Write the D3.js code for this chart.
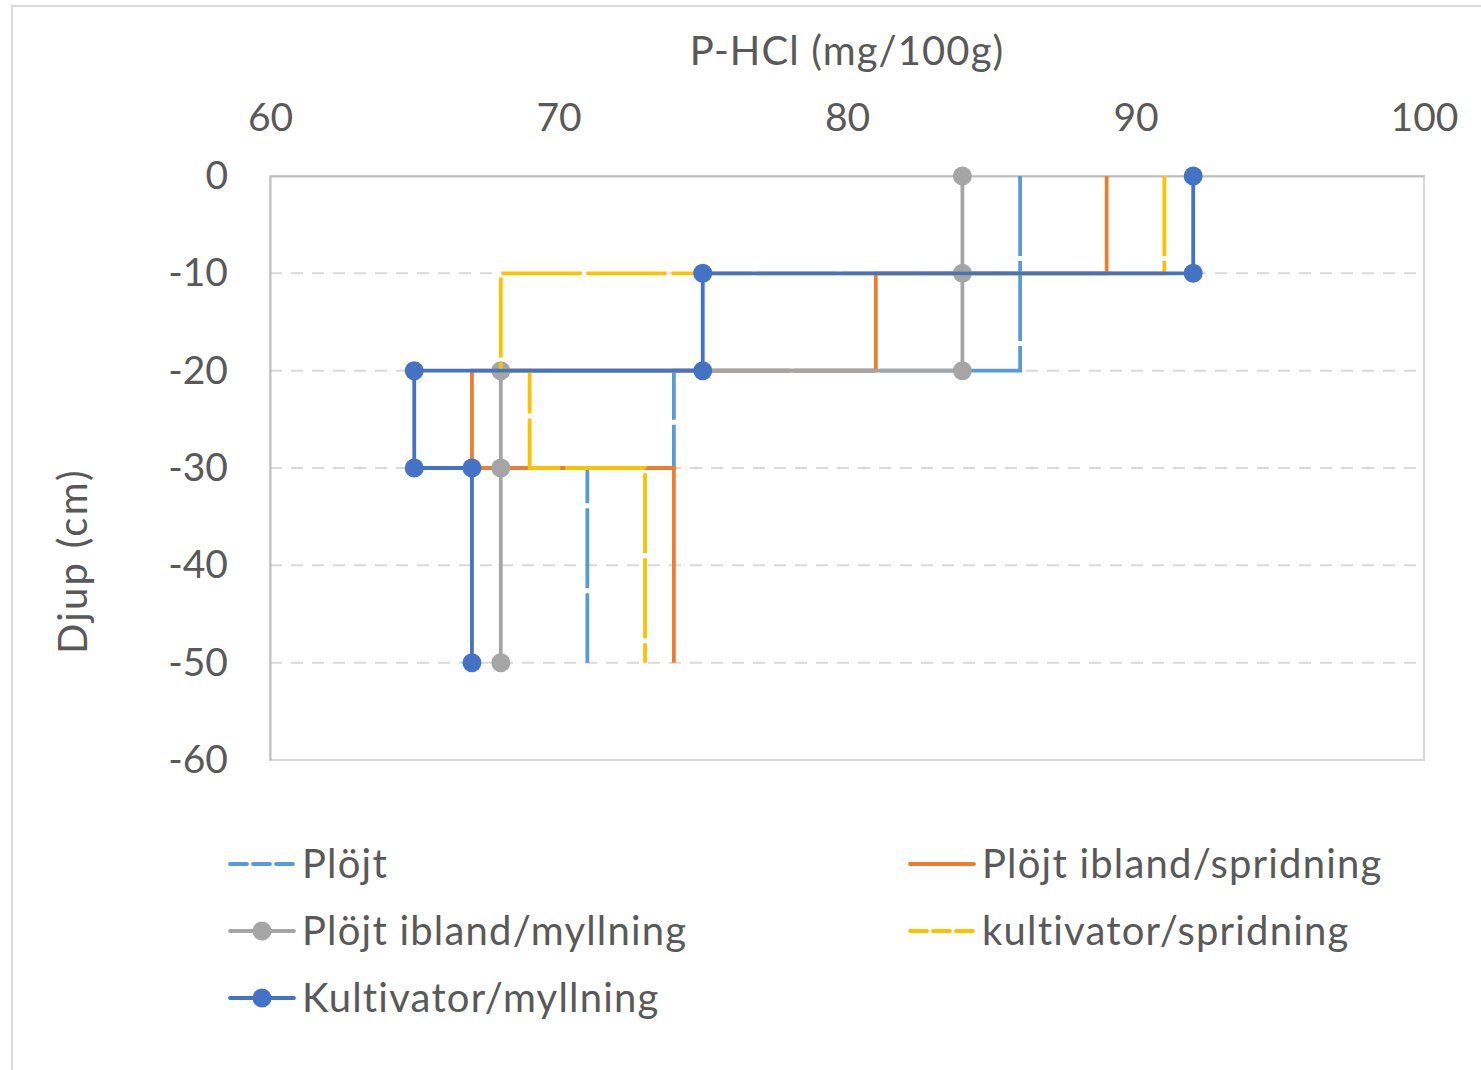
<!DOCTYPE html>
<html>
<head>
<meta charset="utf-8">
<script src="https://cdn.jsdelivr.net/npm/d3@7"></script>
<style>
  html, body { margin: 0; padding: 0; background: #fff; }
  svg { display: block; }
  text { font-family: Lato, "Open Sans", sans-serif; fill: #595959; }
</style>
</head>
<body>
<svg id="chart" width="1481" height="1070"></svg>
<script>
// ---- data ----
const xTicks = [60, 70, 80, 90, 100];
const yTicks = [0, -10, -20, -30, -40, -50, -60];
const xTitle = "P-HCl (mg/100g)";
const yTitle = "Djup (cm)";

const seriesNames = ["Plöjt", "Plöjt ibland/spridning", "Plöjt ibland/myllning", "kultivator/spridning", "Kultivator/myllning"];

const ploejtX = [86, 86, 86, 74, 74, 71, 71];
const ploejtY = [0, -10, -20, -20, -30, -30, -50];

const ploejtSpridX = [89, 89, 81, 81, 67, 67, 74, 74];
const ploejtSpridY = [0, -10, -10, -20, -20, -30, -30, -50];

const ploejtMyllX = [84, 84, 84, 68, 68, 68];
const ploejtMyllY = [0, -10, -20, -20, -30, -50];

const kultSpridX = [91, 91, 68, 68, 69, 69, 73, 73];
const kultSpridY = [0, -10, -10, -20, -20, -30, -30, -50];

const kultMyllX = [92, 92, 75, 75, 65, 65, 67, 67];
const kultMyllY = [0, -10, -10, -20, -20, -30, -30, -50];

// ---- styles ----
const styles = [
  { color: "#5B9BD5", dash: "80,5", legendDash: "17,6", marker: false },
  { color: "#ED7D31", dash: null, legendDash: null, marker: false },
  { color: "#A5A5A5", dash: null, legendDash: null, marker: true },
  { color: "#FFC000", dash: "80,5", legendDash: "17,6", marker: false },
  { color: "#4472C4", dash: null, legendDash: null, marker: true }
];

const seriesData = [
  [ploejtX, ploejtY],
  [ploejtSpridX, ploejtSpridY],
  [ploejtMyllX, ploejtMyllY],
  [kultSpridX, kultSpridY],
  [kultMyllX, kultMyllY]
].map(([xs, ys]) => xs.map((v, i) => ({ x: v, y: ys[i] })));

const svg = d3.select("#chart");

// outer chart border
svg.append("rect")
  .attr("x", 12).attr("y", 6).attr("width", 1480).attr("height", 1080)
  .attr("fill", "none").attr("stroke", "#d9d9d9").attr("stroke-width", 2);

const x = d3.scaleLinear().domain([60, 100]).range([270, 1424]);
const y = d3.scaleLinear().domain([0, -60]).range([176, 760]);

// gridlines
svg.append("g").selectAll("line")
  .data(yTicks.filter(d => d !== 0 && d !== -60))
  .join("line")
  .attr("x1", x(60)).attr("x2", x(100))
  .attr("y1", d => y(d)).attr("y2", d => y(d))
  .attr("stroke", "#d9d9d9").attr("stroke-width", 2)
  .attr("stroke-dasharray", "12,9");

// plot area border
svg.append("rect")
  .attr("x", x(60)).attr("y", y(0))
  .attr("width", x(100) - x(60)).attr("height", y(-60) - y(0))
  .attr("fill", "none").attr("stroke", "#d9d9d9").attr("stroke-width", 2);

// axes
const xAxis = d3.axisTop(x).tickValues(xTicks).tickSize(0).tickPadding(45).tickFormat(d => String(d));
const gx = svg.append("g").attr("transform", `translate(0,${y(0)})`).call(xAxis);
gx.select(".domain").attr("stroke", "#bfbfbf").attr("stroke-width", 2);
gx.selectAll("text").attr("font-size", 39).attr("fill", "#595959").style("font-family", "Lato, sans-serif");

const yAxis = d3.axisLeft(y).tickValues(yTicks).tickSize(0).tickPadding(42).tickFormat(d => String(d));
const gy = svg.append("g").attr("transform", `translate(${x(60)},0)`).call(yAxis);
gy.select(".domain").attr("stroke", "#bfbfbf").attr("stroke-width", 2);
gy.selectAll("text").attr("font-size", 39).attr("fill", "#595959").style("font-family", "Lato, sans-serif");

// titles
svg.append("text")
  .attr("x", 847).attr("y", 65)
  .attr("text-anchor", "middle")
  .attr("font-size", 40)
  .attr("letter-spacing", 1.1)
  .text(xTitle);

svg.append("text")
  .attr("transform", "translate(87,561) rotate(-90)")
  .attr("text-anchor", "middle")
  .attr("font-size", 40)
  .attr("letter-spacing", 2.2)
  .text(yTitle);

// series
const line = d3.line().x(d => x(d.x)).y(d => y(d.y));
seriesData.forEach((pts, i) => {
  const s = styles[i];
  const g = svg.append("g");
  g.append("path")
    .attr("d", line(pts))
    .attr("fill", "none")
    .attr("stroke", s.color)
    .attr("stroke-width", 3.8)
    .attr("stroke-linejoin", "miter")
    .attr("stroke-dasharray", s.dash);
  if (s.marker) {
    g.selectAll("circle").data(pts).join("circle")
      .attr("cx", d => x(d.x)).attr("cy", d => y(d.y))
      .attr("r", 9.5).attr("fill", s.color);
  }
});

// legend
const legendPos = [
  { lx: 230, ly: 864 },
  { lx: 910, ly: 864 },
  { lx: 230, ly: 931 },
  { lx: 910, ly: 931 },
  { lx: 230, ly: 998 }
];
seriesNames.forEach((name, i) => {
  const s = styles[i];
  const p = legendPos[i];
  const g = svg.append("g").attr("transform", `translate(${p.lx},${p.ly})`);
  g.append("line")
    .attr("x1", 0).attr("x2", 64).attr("y1", 0).attr("y2", 0)
    .attr("stroke", s.color).attr("stroke-width", 3.8)
    .attr("stroke-linecap", "round")
    .attr("stroke-dasharray", s.legendDash);
  if (s.marker) {
    g.append("circle").attr("cx", 32).attr("cy", 0).attr("r", 9.5).attr("fill", s.color);
  }
  g.append("text")
    .attr("x", 72).attr("y", 0).attr("dy", "0.35em")
    .attr("font-size", 40)
    .attr("letter-spacing", 1.2)
    .text(name);
});
</script>
</body>
</html>
